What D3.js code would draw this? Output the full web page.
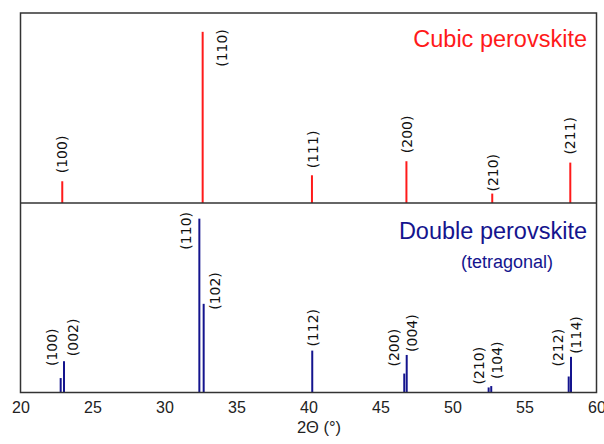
<!DOCTYPE html>
<html>
<head>
<meta charset="utf-8">
<script src="https://cdn.jsdelivr.net/npm/d3@7"></script>
<style>
  html, body { margin: 0; padding: 0; background: #fff; }
  svg { display: block; }
</style>
</head>
<body>
<svg id="chart" width="604" height="444"></svg>
<script>
// Cubic perovskite reflections: 2θ (deg), relative intensity, Miller indices
const cubicTheta = [22.9, 32.65, 40.24, 46.8, 52.76, 58.18];
const cubicIntensity = [12.7, 100, 16.2, 24.4, 5.5, 23.6];
const cubicHkl = ["(100)", "(110)", "(111)", "(200)", "(210)", "(211)"];

// Tetragonal double perovskite reflections
const doubleTheta = [22.79, 23.02, 32.42, 32.72, 40.26, 46.65, 46.82, 52.51, 52.69, 58.07, 58.23];
const doubleIntensity = [8.3, 18, 100, 51, 24.1, 10.9, 21.6, 2.9, 3.7, 9.2, 20.5];
const doubleHkl = ["(100)", "(002)", "(110)", "(102)", "(112)", "(200)", "(004)", "(210)", "(104)", "(212)", "(114)"];

// x-axis ticks
const xTicks = [20, 25, 30, 35, 40, 45, 50, 55, 60];

// label placement (px offset of the rotated label from the top of its line)
const cubicLabelOffset = [[0, -8], [19, 35], [1, -7], [1, -8], [1, -2], [0, -8]];
const doubleLabelOffset = [[-9, -12], [9, -5], [-13, 31], [11, 6], [1, -4], [-10, -7], [5, -3], [-10, -3], [6, -7], [-11, -10], [5, -3]];

const svg = d3.select("#chart");
const plotLeft = 20.5, plotRight = 596.5, plotTop = 13, plotMid = 203, plotBottom = 392.5;

const x = d3.scaleLinear().domain([20, 60]).range([plotLeft, plotRight]);
const yTop = d3.scaleLinear().domain([0, 111]).range([plotMid, plotTop]);
const yBot = d3.scaleLinear().domain([0, 109]).range([plotBottom, plotMid]);

const labelFont = "'DejaVu Sans', sans-serif";
const textFont = "'Liberation Sans', Arial, sans-serif";

function drawPanel(theta, intensity, hkl, offsets, y, color) {
  const g = svg.append("g");
  g.selectAll("line.peak")
    .data(theta)
    .join("line")
    .attr("class", "peak")
    .attr("x1", d => x(d)).attr("x2", d => x(d))
    .attr("y1", y(0))
    .attr("y2", (d, i) => y(intensity[i]))
    .attr("stroke", color)
    .attr("stroke-width", 2);

  g.selectAll("text.hkl")
    .data(theta)
    .join("text")
    .attr("class", "hkl")
    .attr("transform", (d, i) =>
      `translate(${x(d) + offsets[i][0]},${y(intensity[i]) + offsets[i][1]}) rotate(-90)`)
    .attr("text-anchor", "start")
    .attr("dominant-baseline", "central")
    .attr("font-family", labelFont)
    .attr("font-size", 14)
    .attr("fill", "#111")
    .text((d, i) => hkl[i]);
}

drawPanel(cubicTheta, cubicIntensity, cubicHkl, cubicLabelOffset, yTop, "#ff1a1a");
drawPanel(doubleTheta, doubleIntensity, doubleHkl, doubleLabelOffset, yBot, "#14148e");

// frame and panel divider
svg.append("rect")
  .attr("x", plotLeft).attr("y", plotTop)
  .attr("width", plotRight - plotLeft).attr("height", plotBottom - plotTop)
  .attr("fill", "none").attr("stroke", "#333").attr("stroke-width", 1.5);
svg.append("line")
  .attr("x1", plotLeft).attr("x2", plotRight)
  .attr("y1", plotMid).attr("y2", plotMid)
  .attr("stroke", "#333").attr("stroke-width", 1.5);

// x axis (labels only)
const axis = d3.axisBottom(x).tickValues(xTicks).tickSize(0).tickPadding(9);
const ax = svg.append("g").attr("transform", `translate(0,${plotBottom})`).call(axis);
ax.select(".domain").remove();
ax.selectAll("text")
  .attr("font-family", textFont)
  .attr("font-size", 16)
  .attr("fill", "#222");

svg.append("text")
  .attr("x", 319).attr("y", 433)
  .attr("text-anchor", "middle")
  .attr("font-family", textFont)
  .attr("font-size", 16.5)
  .attr("fill", "#222")
  .text("2Θ (°)");

// panel titles
svg.append("text")
  .attr("x", 587).attr("y", 46.5)
  .attr("text-anchor", "end")
  .attr("font-family", textFont)
  .attr("font-size", 23.5)
  .attr("fill", "#ff1a1a")
  .text("Cubic perovskite");

svg.append("text")
  .attr("x", 587).attr("y", 238.5)
  .attr("text-anchor", "end")
  .attr("font-family", textFont)
  .attr("font-size", 23.5)
  .attr("fill", "#14148e")
  .text("Double perovskite");

svg.append("text")
  .attr("x", 553).attr("y", 268)
  .attr("text-anchor", "end")
  .attr("font-family", textFont)
  .attr("font-size", 18)
  .attr("fill", "#14148e")
  .text("(tetragonal)");
</script>
</body>
</html>
